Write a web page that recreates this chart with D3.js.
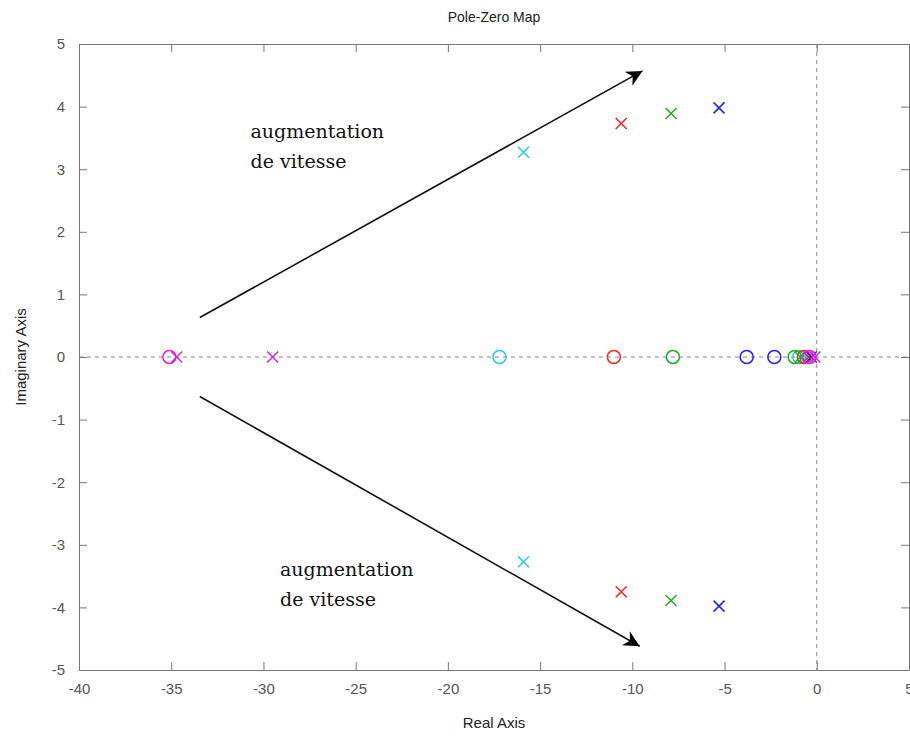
<!DOCTYPE html>
<html lang="en">
<head>
    <meta charset="UTF-8">
    <script src="https://d3js.org/d3.v7.min.js"></script>
    <style>
        body { margin: 0; background: #fff; font-family: "Liberation Sans", Arial, sans-serif; }
    </style>
</head>
<body>
<div id="chart"></div>
<script>
// Data
var seriesNames = ["cyan", "red", "green", "blue", "magenta"];
var seriesColors = ["#22d0d8", "#ff2020", "#22a822", "#2020ff", "#dd22dd"];
var poles = [
    [[-15.9, 3.27], [-15.9, -3.27], [-0.6, 0]],
    [[-10.6, 3.73], [-10.6, -3.75], [-0.45, 0]],
    [[-7.9, 3.89], [-7.9, -3.89], [-0.9, 0]],
    [[-5.3, 3.98], [-5.3, -3.98], [-0.3, 0]],
    [[-34.7, 0], [-29.5, 0], [-0.1, 0]]
];
var zeros = [
    [[-17.2, 0], [-0.95, 0]],
    [[-11.0, 0], [-0.7, 0]],
    [[-7.8, 0], [-1.2, 0]],
    [[-3.8, 0], [-2.3, 0]],
    [[-35.1, 0], [-0.4, 0]]
];
var xTicks = [-40, -35, -30, -25, -20, -15, -10, -5, 0, 5];
var yTicks = [-5, -4, -3, -2, -1, 0, 1, 2, 3, 4, 5];
var arrows = [
    { from: [-33.45, 0.63], to: [-9.45, 4.57] },
    { from: [-33.45, -0.63], to: [-9.6, -4.62] }
];
var notes = [
    { at: [-30.7, 3.5], lines: ["augmentation", "de vitesse"] },
    { at: [-29.1, -3.5], lines: ["augmentation", "de vitesse"] }
];

var W = 910, H = 738;
var margin = { top: 44, right: 1, bottom: 68, left: 79 };
var width = W - margin.left - margin.right,
    height = H - margin.top - margin.bottom;

var svg = d3.select("#chart").append("svg")
    .attr("width", W).attr("height", H);

var g = svg.append("g")
    .attr("transform", `translate(${margin.left},${margin.top})`);

var x = d3.scaleLinear().domain([-40, 5]).range([0, width]);
var y = d3.scaleLinear().domain([-5, 5]).range([height, 0]);

var axisColor = "#777", labelColor = "#555";
var plain = function(d) { return String(d); };   // ASCII hyphen minus like the original

// Title
svg.append("text")
    .attr("x", 494).attr("y", 22)
    .attr("text-anchor", "middle")
    .style("font-size", "14px")
    .attr("fill", "#222")
    .text("Pole-Zero Map");

// Axes with inward ticks
function styleAxis(sel) {
    sel.select(".domain").attr("stroke", axisColor);
    sel.selectAll(".tick line").attr("stroke", axisColor);
    sel.selectAll(".tick text")
        .attr("fill", labelColor)
        .style("font-size", "15px")
        .style("font-family", "'Liberation Sans', Arial, sans-serif");
}
g.append("g").attr("transform", `translate(0,${height})`)
    .call(d3.axisBottom(x).tickValues(xTicks).tickSizeInner(-8).tickSizeOuter(0).tickPadding(13).tickFormat(plain))
    .call(styleAxis);
g.append("g")
    .call(d3.axisTop(x).tickValues(xTicks).tickSizeInner(-8).tickSizeOuter(0).tickFormat(""))
    .call(styleAxis);
g.append("g")
    .call(d3.axisLeft(y).tickValues(yTicks).tickSizeInner(-8).tickSizeOuter(0).tickPadding(14).tickFormat(plain))
    .call(styleAxis);
g.append("g").attr("transform", `translate(${width},0)`)
    .call(d3.axisRight(y).tickValues(yTicks).tickSizeInner(-8).tickSizeOuter(0).tickFormat(""))
    .call(styleAxis);

// Axis labels
svg.append("text")
    .attr("x", 494).attr("y", 728)
    .attr("text-anchor", "middle")
    .style("font-size", "15px").attr("fill", "#222")
    .text("Real Axis");
svg.append("text")
    .attr("transform", "rotate(-90)")
    .attr("x", -(margin.top + y(0))).attr("y", 26)
    .attr("text-anchor", "middle")
    .style("font-size", "15px").attr("fill", "#222")
    .text("Imaginary Axis");

// Dashed zero lines
g.append("line")
    .attr("x1", 0).attr("x2", width).attr("y1", y(0)).attr("y2", y(0))
    .attr("stroke", "#888").attr("stroke-dasharray", "4,4");
g.append("line")
    .attr("x1", x(0)).attr("x2", x(0)).attr("y1", 0).attr("y2", height)
    .attr("stroke", "#888").attr("stroke-dasharray", "4,4");

// Zeros (circles) and poles (crosses)
seriesNames.forEach(function(name, i) {
    var c = seriesColors[i];
    g.selectAll(".zero-" + name)
        .data(zeros[i]).enter().append("circle")
        .attr("cx", function(d) { return x(d[0]); })
        .attr("cy", function(d) { return y(d[1]); })
        .attr("r", 6.5)
        .attr("fill", "none").attr("stroke", c).attr("stroke-width", 1.5);
    var s = 5.5;
    g.selectAll(".pole-" + name)
        .data(poles[i]).enter().append("path")
        .attr("d", function(d) {
            var px = x(d[0]), py = y(d[1]);
            return `M${px - s},${py - s}L${px + s},${py + s}M${px - s},${py + s}L${px + s},${py - s}`;
        })
        .attr("fill", "none").attr("stroke", c).attr("stroke-width", 1.5);
});

// Arrows
svg.append("defs").append("marker")
    .attr("id", "head")
    .attr("viewBox", "0 0 10 10")
    .attr("refX", 10).attr("refY", 5)
    .attr("markerWidth", 24).attr("markerHeight", 16)
    .attr("markerUnits", "userSpaceOnUse")
    .attr("orient", "auto")
    .append("path")
    .attr("d", "M0,0L10,5L0,10L3,5Z")
    .attr("fill", "#000");

g.selectAll(".arrow")
    .data(arrows).enter().append("line")
    .attr("x1", function(d) { return x(d.from[0]); })
    .attr("y1", function(d) { return y(d.from[1]); })
    .attr("x2", function(d) { return x(d.to[0]); })
    .attr("y2", function(d) { return y(d.to[1]); })
    .attr("stroke", "#111").attr("stroke-width", 1.6)
    .attr("marker-end", "url(#head)");

// Annotations
notes.forEach(function(n) {
    var t = g.append("text")
        .attr("x", x(n.at[0])).attr("y", y(n.at[1]))
        .style("font-family", "'DejaVu Serif', serif")
        .style("font-size", "19px")
        .style("font-weight", "500")
        .attr("fill", "#111");
    n.lines.forEach(function(line, k) {
        t.append("tspan")
            .attr("x", x(n.at[0]))
            .attr("dy", k === 0 ? 0 : 30)
            .text(line);
    });
});
</script>
</body>
</html>
